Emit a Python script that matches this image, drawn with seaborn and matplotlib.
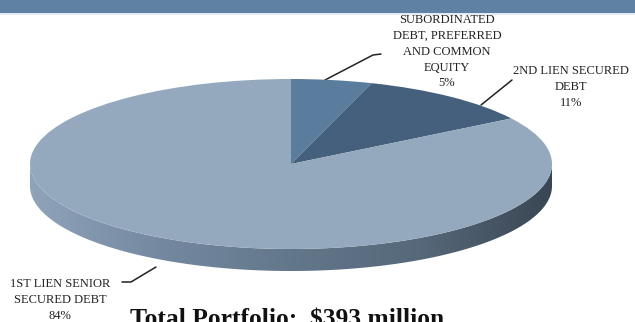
import numpy as np
import matplotlib
matplotlib.use("Agg")
import matplotlib.pyplot as plt
import seaborn as sns
from matplotlib.colors import LinearSegmentedColormap
from matplotlib.patches import Polygon, Rectangle

# Portfolio composition
segments = ["SUBORDINATED\nDEBT, PREFERRED\nAND COMMON\nEQUITY",
            "2ND LIEN SECURED\nDEBT",
            "1ST LIEN SENIOR\nSECURED DEBT"]
shares = [5, 11, 84]
title = "Total Portfolio:  $393 million"

colors = ["#5a7c9d", "#44607c", "#94a9be"]

sns.set_theme(style="white")
plt.rcParams["font.family"] = ["Liberation Serif", "DejaVu Serif"]

W, H = 635, 322
fig = plt.figure(figsize=(W / 100, H / 100), dpi=100)

# pixel-space overlay for banner, labels, leader lines
bg = fig.add_axes([0, 0, 1, 1])
bg.set_xlim(0, W)
bg.set_ylim(H, 0)
bg.axis("off")
bg.add_patch(Rectangle((0, 0), W, 13, color="#5e81a4", lw=0))
bg.add_patch(Rectangle((0, 13), W, 2, color="#e3ecf2", lw=0))

# tilted pie: ellipse + side band
cx, cy, rx, ry, depth = 291, 164, 261, 85, 22
d = depth / ry
pax = fig.add_axes([(cx - rx) / W, 1 - (cy + ry + depth) / H,
                    2 * rx / W, (2 * ry + depth) / H])

t = np.linspace(np.pi, 2 * np.pi, 200)
top = np.column_stack([np.cos(t), np.sin(t)])
bot = np.column_stack([np.cos(t[::-1]), np.sin(t[::-1]) - d])
side = Polygon(np.vstack([top, bot]), closed=True, facecolor="none", edgecolor="none")
pax.add_patch(side)
cmap = LinearSegmentedColormap.from_list(
    "side", ["#8fa4b9", "#7489a0", "#63778b", "#56687a", "#3a4653"])
grad = np.linspace(0, 1, 256).reshape(1, -1)
im = pax.imshow(grad, cmap=cmap, extent=(-1, 1, -1 - d, 0), aspect="auto", zorder=0)
im.set_clip_path(side)

pax.pie(shares, colors=colors, startangle=90, counterclock=False,
        radius=1, center=(0, 0), frame=True,
        wedgeprops=dict(linewidth=0))
pax.set_aspect("auto")
pax.set_xlim(-1, 1)
pax.set_ylim(-1 - d, 1)
pax.axis("off")

# labels
fs = 9.0
ls = 1.45
tc = "#222222"
bg.text(447, 44, segments[0], ha="center", va="center", fontsize=fs,
        linespacing=ls, color=tc)
bg.text(447, 83, f"{shares[0]}%", ha="center", va="center", fontsize=fs, color=tc)
bg.text(571, 87, segments[1] + f"\n{shares[1]}%", ha="center", va="center",
        fontsize=fs, linespacing=ls, color=tc)
bg.text(60, 300, segments[2] + f"\n{shares[2]}%", ha="center", va="center",
        fontsize=fs, linespacing=ls, color=tc)

# leader lines
lk = dict(color="#222222", lw=1.1)
bg.plot([325, 373, 381], [80, 55, 54], **lk)
bg.plot([481, 512], [105, 80], **lk)
bg.plot([156, 131, 122], [267, 282, 282], **lk)

bg.text(130, 326, title, ha="left", va="baseline", fontsize=18.4,
        fontweight="bold", color="#111111")

fig.savefig("out.png", dpi=100)
